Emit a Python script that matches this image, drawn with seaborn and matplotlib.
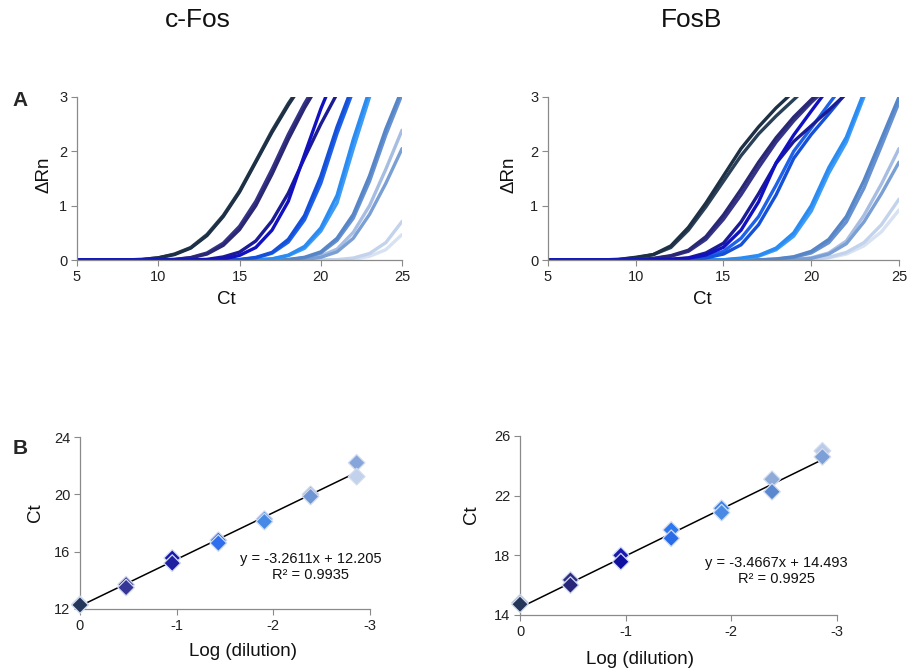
import numpy as np
import pandas as pd
import matplotlib
matplotlib.use('Agg')
import matplotlib.pyplot as plt
import seaborn as sns

# ---- amplification curves: delta Rn read at cycles 5, 6, 7, ... ----
cfos_curves = {
    'A1': [0, 0, 0, 0.003, 0.01, 0.04, 0.10, 0.22, 0.45, 0.80, 1.25, 1.80, 2.35, 2.85, 3.30],
    'A2': [0, 0, 0, 0.003, 0.01, 0.04, 0.11, 0.23, 0.47, 0.82, 1.27, 1.82, 2.38, 2.88, 3.32],
    'B1': [0, 0, 0, 0, 0, 0.003, 0.009, 0.04, 0.11, 0.27, 0.56, 1.00, 1.58, 2.22, 2.80, 3.30],
    'B2': [0, 0, 0, 0, 0, 0.004, 0.011, 0.045, 0.13, 0.31, 0.62, 1.08, 1.67, 2.31, 2.88, 3.38],
    'C1': [0, 0, 0, 0, 0, 0, 0, 0.001, 0.003, 0.018, 0.085, 0.23, 0.55, 1.08, 1.94, 2.78, 3.50],
    'C2': [0, 0, 0, 0, 0, 0, 0.001, 0.003, 0.012, 0.057, 0.146, 0.35, 0.72, 1.23, 1.88, 2.50, 3.06],
    'D1': [0, 0, 0, 0, 0, 0, 0, 0, 0, 0.002, 0.009, 0.048, 0.14, 0.38, 0.82, 1.54, 2.45, 3.23],
    'D2': [0, 0, 0, 0, 0, 0, 0, 0, 0, 0.002, 0.007, 0.038, 0.125, 0.33, 0.74, 1.41, 2.33, 3.12],
    'E1': [0, 0, 0, 0, 0, 0, 0, 0, 0, 0, 0.001, 0.004, 0.022, 0.09, 0.25, 0.59, 1.19, 2.22, 3.13],
    'E2': [0, 0, 0, 0, 0, 0, 0, 0, 0, 0, 0, 0.004, 0.017, 0.08, 0.215, 0.53, 1.05, 2.05, 3.00, 3.50],
    'F1': [0, 0, 0, 0, 0, 0, 0, 0, 0, 0, 0, 0, 0.002, 0.009, 0.05, 0.15, 0.40, 0.84, 1.55, 2.41, 3.14],
    'F2': [0, 0, 0, 0, 0, 0, 0, 0, 0, 0, 0, 0, 0.001, 0.007, 0.04, 0.13, 0.36, 0.77, 1.45, 2.30, 3.05],
    'G1': [0, 0, 0, 0, 0, 0, 0, 0, 0, 0, 0, 0, 0.001, 0.003, 0.015, 0.076, 0.20, 0.51, 1.00, 1.67, 2.39],
    'G2': [0, 0, 0, 0, 0, 0, 0, 0, 0, 0, 0, 0, 0, 0.002, 0.009, 0.05, 0.15, 0.40, 0.84, 1.41, 2.05],
    'H1': [0, 0, 0, 0, 0, 0, 0, 0, 0, 0, 0, 0, 0, 0, 0, 0.002, 0.007, 0.036, 0.12, 0.32, 0.71],
    'H2': [0, 0, 0, 0, 0, 0, 0, 0, 0, 0, 0, 0, 0, 0, 0, 0.001, 0.003, 0.012, 0.068, 0.19, 0.47],
}

fosb_curves = {
    'A1': [0, 0, 0, 0.003, 0.01, 0.05, 0.10, 0.26, 0.60, 1.05, 1.55, 2.05, 2.45, 2.80, 3.10],
    'A2': [0, 0, 0, 0.003, 0.01, 0.04, 0.10, 0.23, 0.55, 0.98, 1.45, 1.92, 2.32, 2.65, 2.95, 3.25],
    'B1': [0, 0, 0, 0, 0, 0.005, 0.03, 0.08, 0.18, 0.43, 0.83, 1.30, 1.80, 2.25, 2.63, 2.95, 3.25],
    'B2': [0, 0, 0, 0, 0, 0.004, 0.025, 0.07, 0.16, 0.38, 0.75, 1.20, 1.70, 2.17, 2.56, 2.90, 3.20],
    'C1': [0, 0, 0, 0, 0, 0, 0.003, 0.01, 0.032, 0.093, 0.235, 0.55, 1.07, 1.79, 2.30, 2.74, 3.17],
    'C2': [0, 0, 0, 0, 0, 0, 0.005, 0.015, 0.04, 0.13, 0.31, 0.70, 1.22, 1.78, 2.18, 2.47, 2.76, 3.06],
    'D1': [0, 0, 0, 0, 0, 0, 0, 0.004, 0.012, 0.037, 0.11, 0.28, 0.65, 1.20, 1.87, 2.31, 2.69, 3.08],
    'D2': [0, 0, 0, 0, 0, 0, 0, 0.006, 0.02, 0.06, 0.16, 0.40, 0.80, 1.38, 2.00, 2.43, 2.87, 3.30],
    'E1': [0, 0, 0, 0, 0, 0, 0, 0, 0, 0.002, 0.005, 0.035, 0.085, 0.22, 0.50, 1.00, 1.70, 2.26, 3.08],
    'E2': [0, 0, 0, 0, 0, 0, 0, 0, 0, 0, 0.004, 0.025, 0.07, 0.19, 0.44, 0.90, 1.60, 2.17, 3.00, 3.60],
    'F1': [0, 0, 0, 0, 0, 0, 0, 0, 0, 0, 0, 0, 0.003, 0.02, 0.06, 0.16, 0.38, 0.80, 1.46, 2.23, 3.00],
    'F2': [0, 0, 0, 0, 0, 0, 0, 0, 0, 0, 0, 0, 0.002, 0.015, 0.05, 0.13, 0.32, 0.70, 1.32, 2.10, 2.90],
    'G1': [0, 0, 0, 0, 0, 0, 0, 0, 0, 0, 0, 0, 0, 0.002, 0.01, 0.04, 0.13, 0.35, 0.82, 1.40, 2.05],
    'G2': [0, 0, 0, 0, 0, 0, 0, 0, 0, 0, 0, 0, 0, 0.002, 0.008, 0.03, 0.11, 0.30, 0.70, 1.22, 1.80],
    'H1': [0, 0, 0, 0, 0, 0, 0, 0, 0, 0, 0, 0, 0, 0, 0.004, 0.015, 0.05, 0.14, 0.32, 0.65, 1.12],
    'H2': [0, 0, 0, 0, 0, 0, 0, 0, 0, 0, 0, 0, 0, 0, 0.003, 0.01, 0.04, 0.11, 0.26, 0.52, 0.92],
}

curve_colours = {
    'A1': '#1d3045', 'A2': '#2a4058',
    'B1': '#2a2875', 'B2': '#363489',
    'C1': '#1111c2', 'C2': '#1b1b96',
    'D1': '#1450d8', 'D2': '#1e62ea',
    'E1': '#2a8cf2', 'E2': '#3f9cf5',
    'F1': '#5686c8', 'F2': '#6792cf',
    'G1': '#a7bee2', 'G2': '#7a9fd4',
    'H1': '#c3d3ec', 'H2': '#d7e2f3',
}
# pale ones first so the navy curves end up on top
draw_order = ['H2', 'H1', 'G1', 'G2', 'F2', 'F1', 'E2', 'E1',
              'A2', 'A1', 'B2', 'B1', 'D2', 'D1', 'C2', 'C1']

# ---- standard curves ----
log_dilution = [0, -0.477, -0.954, -1.431, -1.908, -2.385, -2.862]
cfos_ct_rep1 = [12.33, 13.70, 15.56, 16.80, 18.27, 20.00, 22.20]
cfos_ct_rep2 = [12.28, 13.50, 15.20, 16.60, 18.10, 19.85, 21.24]
fosb_ct_rep1 = [14.82, 16.35, 18.00, 19.70, 21.15, 23.10, 25.00]
fosb_ct_rep2 = [14.72, 16.00, 17.57, 19.14, 20.86, 22.26, 24.60]

cfos_col_rep1 = ['#1c2b45', '#2e2d86', '#1818b0', '#2465e6', '#3a7fe0', '#6890d2', '#86a5da']
cfos_col_rep2 = ['#24365a', '#363598', '#1f1fa2', '#2f6fee', '#4689e6', '#6f96d4', '#c2d1ec']
fosb_col_rep1 = ['#1c2b45', '#2e2d86', '#1a1ab2', '#2c78f0', '#3a82e8', '#8eaad8', '#b9cbe7']
fosb_col_rep2 = ['#24365a', '#26257a', '#1010a0', '#2a6ce8', '#4a8ae4', '#5a88d0', '#7b9fd6']

cfos_fit = (-3.2611, 12.205, 0.9935)
fosb_fit = (-3.4667, 14.493, 0.9925)

sns.set_theme(style='white')
plt.rcParams['font.family'] = ['Liberation Sans', 'DejaVu Sans']
GREY = '#8a8a8a'


def style_axes(ax):
    sns.despine(ax=ax)
    for s in ['left', 'bottom']:
        ax.spines[s].set_color(GREY)
        ax.spines[s].set_linewidth(0.9)
    ax.tick_params(axis='both', which='major', direction='out', length=4,
                   width=0.8, color=GREY, labelsize=10.5, pad=3, labelcolor='#222222')
    ax.tick_params(axis='x', bottom=True)
    ax.tick_params(axis='y', left=True)


def amplification_plot(ax, curves, xlab_x, ylab_x):
    rows = []
    for key in draw_order:
        vals = curves[key]
        for i, v in enumerate(vals):
            rows.append({'cycle': 5 + i, 'dRn': v, 'well': key})
    df = pd.DataFrame(rows)
    sns.lineplot(data=df, x='cycle', y='dRn', hue='well', hue_order=draw_order,
                 palette=curve_colours, estimator=None, sort=False, linewidth=2.4,
                 legend=False, ax=ax, solid_joinstyle='round', solid_capstyle='round')
    ax.set_xlim(5, 25)
    ax.set_ylim(0, 3)
    ax.set_xticks([5, 10, 15, 20, 25])
    ax.set_yticks([0, 1, 2, 3])
    style_axes(ax)
    ax.set_xlabel('Ct', fontsize=13.5, color='#111111')
    ax.set_ylabel('ΔRn', fontsize=13.5, color='#111111')
    ax.xaxis.set_label_coords(xlab_x, -0.19)
    ax.yaxis.set_label_coords(ylab_x, 0.52)


def standard_plot(ax, ct1, ct2, col1, col2, fit, ylim, yticks, txt_x, xlab_x, ylab_x):
    slope, icpt, r2 = fit
    xs = [log_dilution[0], log_dilution[-1]]
    ax.plot(xs, [slope * x + icpt for x in xs], color='black', lw=1.1, zorder=2)
    pts = pd.DataFrame({
        'logd': log_dilution + log_dilution,
        'ct': ct1 + ct2,
        'key': [f'r1-{i}' for i in range(7)] + [f'r2-{i}' for i in range(7)],
    })
    pal = {f'r1-{i}': c for i, c in enumerate(col1)}
    pal.update({f'r2-{i}': c for i, c in enumerate(col2)})
    sns.scatterplot(data=pts, x='logd', y='ct', hue='key', palette=pal, marker='D',
                    s=72, edgecolor='#d3dcee', linewidth=0.9, legend=False,
                    ax=ax, zorder=3, clip_on=False)
    ax.set_xlim(0, -3)
    ax.set_ylim(*ylim)
    ax.set_xticks([0, -1, -2, -3])
    ax.set_xticklabels(['0', '-1', '-2', '-3'])
    ax.set_yticks(yticks)
    style_axes(ax)
    ax.set_xlabel('Log (dilution)', fontsize=13.5, color='#111111')
    ax.set_ylabel('Ct', fontsize=13.5, color='#111111')
    ax.xaxis.set_label_coords(xlab_x, -0.2)
    ax.yaxis.set_label_coords(ylab_x, 0.56)
    ax.text(txt_x, 0.245, f'y = {slope}x + {icpt}\nR² = {r2}', transform=ax.transAxes,
            ha='center', va='center', multialignment='center', fontsize=10.5,
            color='#111111', linespacing=1.15)


fig = plt.figure(figsize=(9.08, 6.71), dpi=100)
ax1 = fig.add_axes([0.0848, 0.6125, 0.358, 0.243])
ax2 = fig.add_axes([0.6035, 0.6125, 0.3866, 0.243])
ax3 = fig.add_axes([0.0881, 0.0924, 0.3194, 0.2563])
ax4 = fig.add_axes([0.5727, 0.0835, 0.3491, 0.2668])

amplification_plot(ax1, cfos_curves, 0.46, -0.075)
amplification_plot(ax2, fosb_curves, 0.44, -0.088)
standard_plot(ax3, cfos_ct_rep1, cfos_ct_rep2, cfos_col_rep1, cfos_col_rep2, cfos_fit,
              (12, 24), [12, 16, 20, 24], 0.795, 0.562, -0.125)
standard_plot(ax4, fosb_ct_rep1, fosb_ct_rep2, fosb_col_rep1, fosb_col_rep2, fosb_fit,
              (14, 26), [14, 18, 22, 26], 0.81, 0.38, -0.125)

fig.text(198 / 908, 1 - 20 / 671, 'c-Fos', ha='center', va='center', fontsize=19, color='#111111')
fig.text(692 / 908, 1 - 20 / 671, 'FosB', ha='center', va='center', fontsize=19, color='#111111')
fig.text(20 / 908, 1 - 101 / 671, 'A', ha='center', va='center', fontsize=15, fontweight='bold')
fig.text(20 / 908, 1 - 449 / 671, 'B', ha='center', va='center', fontsize=15, fontweight='bold')

fig.savefig('out.png', dpi=100)
